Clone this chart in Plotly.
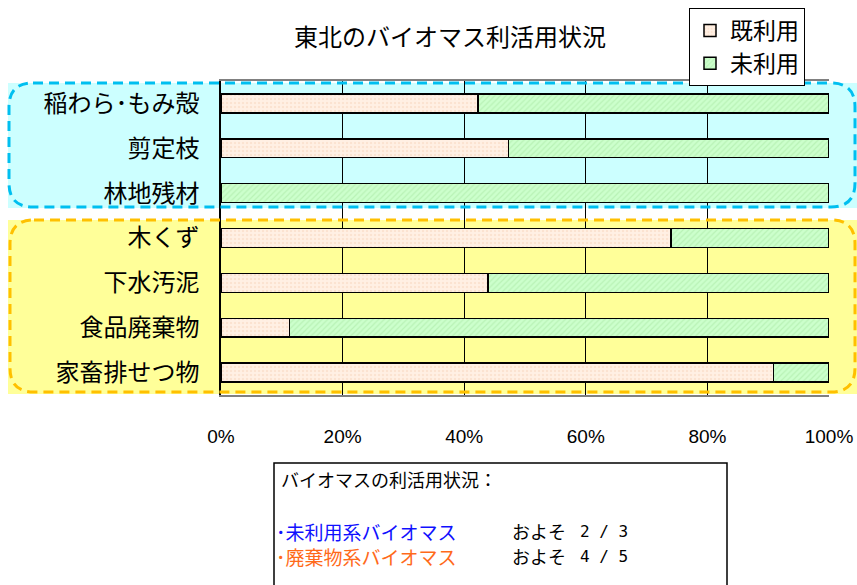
import plotly.graph_objects as go

categories = ["稲わら･もみ殻", "剪定枝", "林地残材", "木くず", "下水汚泥", "食品廃棄物", "家畜排せつ物"]
used = [42.3, 47.3, 0, 74.0, 43.9, 11.3, 90.9]
unused = [57.7, 52.7, 100, 26.0, 56.1, 88.7, 9.1]
series_names = ["既利用", "未利用"]
x_ticks = [0, 20, 40, 60, 80, 100]
x_tick_labels = ["0%", "20%", "40%", "60%", "80%", "100%"]
note_title = "バイオマスの利活用状況："
note_rows = ["･未利用系バイオマス", "･廃棄物系バイオマス"]
note_ratio = ["2 / 3", "4 / 5"]

# the page body margin is removed below, so the figure fills the whole window
OX, OY = 0, 0
W, H = 857, 585
PLOT_L, PLOT_R, PLOT_T, PLOT_B = 221, 829, 81, 395
L, R, T, B = PLOT_L - OX, 857 - PLOT_R, PLOT_T - OY, (OY + H) - PLOT_B
PW = PLOT_R - PLOT_L
PH = PLOT_B - PLOT_T

JP = "Noto Sans CJK JP"


def px(x):
    return (x - PLOT_L) / PW


def py(y):
    return (PLOT_B - y) / PH


def cx(x):
    return (x - OX) / W


def cy(y):
    return 1 - (y - OY) / H


def rounded(x0, y0, x1, y1, r):
    rx = r / PW
    ry = r / PH
    X0, X1 = px(x0), px(x1)
    Y0, Y1 = py(y1), py(y0)  # Y0 bottom, Y1 top
    return (f"M {X0+rx},{Y1} L {X1-rx},{Y1} Q {X1},{Y1} {X1},{Y1-ry} "
            f"L {X1},{Y0+ry} Q {X1},{Y0} {X1-rx},{Y0} L {X0+rx},{Y0} "
            f"Q {X0},{Y0} {X0},{Y0+ry} L {X0},{Y1-ry} Q {X0},{Y1} {X0+rx},{Y1} Z")


fig = go.Figure()
fig.add_trace(go.Bar(
    y=categories, x=used, name=series_names[0], orientation="h", width=0.42,
    marker=dict(color="#FFEEDD", line=dict(color="black", width=1.5),
                pattern=dict(shape=".", fgcolor="#F5D5BE", bgcolor="#FFF0E4", size=4, solidity=0.3)),
))
fig.add_trace(go.Bar(
    y=categories, x=unused, name=series_names[1], orientation="h", width=0.42,
    marker=dict(color="#C8FFC0", line=dict(color="black", width=1.5),
                pattern=dict(shape="/", fgcolor="#A5E6A0", bgcolor="#CCFFCC", size=4, solidity=0.3)),
))

shapes = [
    # cyan region
    dict(type="rect", xref="paper", yref="paper", x0=px(8), x1=px(857), y0=py(208), y1=py(83),
         fillcolor="#CCFFFF", line=dict(width=0), layer="below"),
    dict(type="path", xref="paper", yref="paper", path=rounded(9, 83, 855, 207, 24),
         line=dict(color="#00BFF0", width=3, dash="10px,6px"), layer="above"),
    # yellow region
    dict(type="rect", xref="paper", yref="paper", x0=px(8), x1=px(857), y0=py(394), y1=py(220),
         fillcolor="#FFFF99", line=dict(width=0), layer="below"),
    dict(type="path", xref="paper", yref="paper", path=rounded(10, 220, 855, 392, 24),
         line=dict(color="#FFC000", width=3, dash="10px,6px"), layer="above"),
    # text box
    dict(type="rect", xref="paper", yref="paper", x0=px(274), x1=px(727), y0=py(600), y1=py(463),
         fillcolor="white", line=dict(color="black", width=1.5)),
]

row_y = [531, 556]
row_colors = ["#1010FF", "#FF6A1A"]
annotations = [
    dict(text=note_title, x=px(279), y=py(479), xref="paper", yref="paper",
         xanchor="left", yanchor="middle", showarrow=False, font=dict(family=JP, size=18, color="black")),
]
for label, ratio, yy, col in zip(note_rows, note_ratio, row_y, row_colors):
    annotations.append(dict(text=label, x=px(274), y=py(yy), xref="paper", yref="paper",
                            xanchor="left", yanchor="middle", showarrow=False,
                            font=dict(family=JP, size=19, color=col)))
    annotations.append(dict(text="およそ", x=px(510), y=py(yy), xref="paper", yref="paper",
                            xanchor="left", yanchor="middle", showarrow=False,
                            font=dict(family=JP, size=18, color="black")))
    annotations.append(dict(text=ratio, x=px(578), y=py(yy), xref="paper", yref="paper",
                            xanchor="left", yanchor="middle", showarrow=False,
                            font=dict(family="DejaVu Sans Mono", size=16, color="black")))

fig.update_layout(
    width=W, height=H,
    margin=dict(l=L, r=R, t=T, b=B, autoexpand=False),
    barmode="stack",
    paper_bgcolor="white", plot_bgcolor="white",
    title=dict(text="東北のバイオマス利活用状況", xref="container", x=cx(450), xanchor="center",
               yref="container", y=cy(38), yanchor="middle",
               font=dict(family=JP, size=24, color="black")),
    legend=dict(xref="container", yref="container", x=cx(689), y=cy(8), xanchor="left", yanchor="top",
                bgcolor="white", bordercolor="black", borderwidth=1,
                font=dict(family=JP, size=23, color="black"),
                traceorder="normal", itemwidth=30, tracegroupgap=0),
    shapes=shapes,
    annotations=annotations,
    xaxis=dict(range=[0, 100], tickvals=x_ticks, ticktext=x_tick_labels,
               showgrid=True, gridcolor="black", gridwidth=1,
               showline=True, linecolor="#808080", linewidth=1.5, mirror=True,
               zeroline=False, ticks="", ticklabelstandoff=23,
               tickfont=dict(family="Liberation Sans", size=19, color="black"),
               fixedrange=True),
    yaxis=dict(categoryorder="array", categoryarray=categories, autorange="reversed",
               showgrid=False, showline=True, linecolor="black", linewidth=1.5, mirror=False,
               ticks="", ticklabelstandoff=15,
               tickfont=dict(family=JP, size=24, color="black"), fixedrange=True),
    showlegend=True,
)

fig.write_html("out.html", config={"displayModeBar": False},
               post_script="document.body.style.margin='0';document.body.style.overflow='hidden';")
